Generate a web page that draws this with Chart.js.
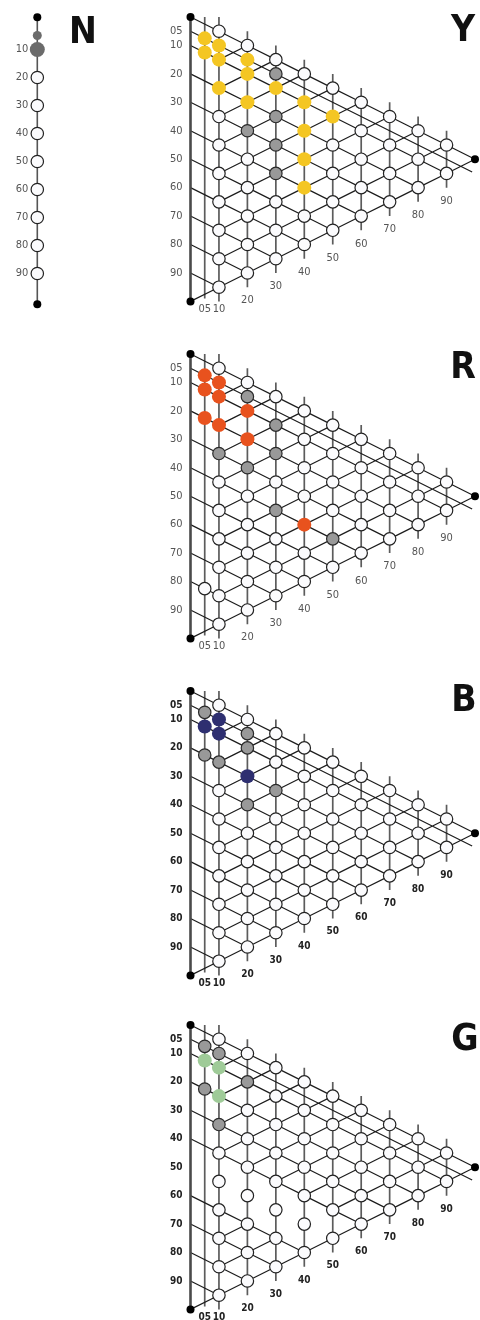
<!DOCTYPE html>
<html>
<head>
<meta charset="utf-8">
<script src="https://cdn.jsdelivr.net/npm/chart.js@4.4.1/dist/chart.umd.min.js"></script>
<style>
html, body { margin: 0; padding: 0; background: #fff; }
body { width: 480px; height: 1320px; position: relative; overflow: hidden; }
canvas { position: absolute; left: 0; }
.hue { position: absolute; font-family: 'Liberation Sans Narrow', 'DejaVu Sans Condensed', Roboto, sans-serif;
       font-weight: bold; font-size: 37px; line-height: 37px; color: #111; transform: translate(-50%, -50%); }
</style>
</head>
<body>
<canvas id="nChart" width="80" height="320" style="top:0"></canvas>
<canvas id="yChart" width="480" height="325" style="top:-3px"></canvas>
<canvas id="rChart" width="480" height="325" style="top:334px"></canvas>
<canvas id="bChart" width="480" height="325" style="top:671px"></canvas>
<canvas id="gChart" width="480" height="325" style="top:1005px"></canvas>
<div class="hue" style="left:83px;top:30px">N</div>
<div class="hue" style="left:463px;top:28px">Y</div>
<div class="hue" style="left:463px;top:365px">R</div>
<div class="hue" style="left:464px;top:698px">B</div>
<div class="hue" style="left:465px;top:1037px">G</div>
<script>
// ejes y escalas
const leftTicks = [5, 10, 20, 30, 40, 50, 60, 70, 80, 90];
const bottomTicks = [5, 10, 20, 30, 40, 50, 60, 70, 80, 90];
const chromaCols = [10, 20, 30, 40, 50, 60, 70, 80, 90];
const blackRows = [0, 10, 20, 30, 40, 50, 60, 70, 80, 90];
const halfRow = 5;

// escala N (negrura pura)
const nTicks = [10, 20, 30, 40, 50, 60, 70, 80, 90];
const nSteps = [5, 10, 20, 30, 40, 50, 60, 70, 80, 90];
const nGray = [5, 10];
const nEnds = [-1.5, 101];

// muestras por tono: [cromaticidad, negrura]
const yHue = [[5, 5], [5, 10], [10, 5], [10, 10], [10, 20], [20, 5], [20, 10], [20, 20], [30, 10], [40, 10], [40, 20], [40, 30], [40, 40], [50, 10]];
const yGray = [[20, 30], [30, 5], [30, 20], [30, 30], [30, 40]];
const yExtra = [];

const rHue = [[5, 5], [5, 10], [5, 20], [10, 5], [10, 10], [10, 20], [20, 10], [20, 20], [40, 40]];
const rGray = [[10, 30], [20, 5], [20, 30], [30, 10], [30, 20], [30, 40], [50, 40]];
const rExtra = [[5, 80]];

const bHue = [[5, 10], [10, 5], [10, 10], [20, 20]];
const bGray = [[5, 5], [5, 20], [10, 20], [20, 5], [20, 10], [20, 30], [30, 20]];
const bExtra = [];

const gHue = [[5, 10], [10, 10], [10, 20]];
const gGray = [[5, 5], [5, 20], [10, 5], [10, 30], [20, 10]];
const gExtra = [];
const gLoose = [[10, 50], [20, 50], [30, 50], [40, 50]];

const FONT = "'Liberation Sans Narrow', 'DejaVu Sans Condensed', Roboto, sans-serif";

const isIn = (list, c, s) => list.some(p => p[0] === c && p[1] === s);
const toXY = p => ({ x: p[0], y: p[1] + p[0] / 2 });
const GAP = { x: null, y: null };

function latticeLines(loose) {
    const segs = [];
    const add = (a, b) => {
        if (isIn(loose, a[0], a[1]) || isIn(loose, b[0], b[1])) return;
        segs.push(toXY(a), toXY(b), GAP);
    };
    const chain = nodes => { for (let i = 1; i < nodes.length; i++) add(nodes[i - 1], nodes[i]); };
    // filas de negrura constante
    blackRows.forEach(s => chain([0, ...chromaCols, 100].filter(c => c <= 100 - s).map(c => [c, s])));
    add([0, halfRow], [99, halfRow]);
    // blancura constante
    chromaCols.forEach(w => chain(chromaCols.filter(c => c <= 100 - w).map(c => [c, 100 - w - c])));
    // borde inferior
    chain([0, ...chromaCols, 100].map(c => [c, 100 - c]));
    return segs;
}

function verticalLines() {
    const segs = [toXY([5, -2.5]), toXY([5, 96.5]), GAP];
    chromaCols.forEach(c => segs.push(toXY([c, -5]), toXY([c, 105 - c]), GAP));
    return segs;
}

const bottomLabels = {
    id: 'bottomLabels',
    afterDatasetsDraw(chart, args, o) {
        if (!o || !o.color) return;
        const { ctx, scales: { x, y } } = chart;
        ctx.save();
        ctx.font = o.font;
        ctx.fillStyle = o.color;
        ctx.textAlign = 'center';
        ctx.textBaseline = 'middle';
        bottomTicks.forEach(c => {
            const b = Math.min(100 - c / 2 + 9.7, 102.8);
            ctx.fillText(String(c).padStart(2, '0'), x.getPixelForValue(c), y.getPixelForValue(b));
        });
        ctx.restore();
    }
};

function triangulo(id, hue, gray, extra, loose, color, bold) {
    const whites = [];
    chromaCols.forEach(c => blackRows.forEach(s => {
        if (c + s > 100) return;
        if (isIn(hue, c, s) || isIn(gray, c, s)) return;
        whites.push([c, s]);
    }));
    extra.forEach(p => whites.push(p));
    const txtColor = bold ? '#222' : '#555';
    const weight = bold ? 'bold' : 'normal';
    const size = bold ? 10 : 11;

    return new Chart(document.getElementById(id), {
        type: 'scatter',
        data: {
            datasets: [
                { data: verticalLines(), showLine: true, borderColor: '#5c5c5c', borderWidth: 1.7, pointRadius: 0, order: 5 },
                { data: latticeLines(loose), showLine: true, borderColor: '#1c1c1c', borderWidth: 1.2, pointRadius: 0, order: 4 },
                { data: [toXY([0, 0]), toXY([0, 100])], showLine: true, borderColor: '#4a4a4a', borderWidth: 2.6, pointRadius: 0, order: 3 },
                { data: whites.map(toXY), pointRadius: 6.2, pointBorderWidth: 1.2, pointBackgroundColor: '#fbfbfd', pointBorderColor: '#222', order: 2 },
                { data: gray.map(toXY), pointRadius: 6.2, pointBorderWidth: 1.2, pointBackgroundColor: '#999', pointBorderColor: '#2a2a2a', order: 1 },
                { data: hue.map(toXY), pointRadius: 7, pointBorderWidth: 0, pointBackgroundColor: color, pointBorderColor: color, order: 1 },
                { data: [[0, 0], [0, 100], [100, 0]].map(toXY), pointRadius: 4, pointBorderWidth: 0, pointBackgroundColor: '#000', order: 0 }
            ].map(d => Object.assign({ clip: false }, d))
        },
        options: {
            responsive: false,
            animation: false,
            events: [],
            layout: { autoPadding: false, padding: { left: 0, right: 5, top: 20, bottom: 325 - 20 - 284.4 } },
            scales: {
                x: { type: 'linear', min: 0, max: 100, display: false },
                y: {
                    type: 'linear', reverse: true, min: 0, max: 100,
                    afterFit(axis) { axis.width = 190.5; },
                    afterBuildTicks(axis) { axis.ticks = leftTicks.map(v => ({ value: v })); },
                    ticks: {
                        autoSkip: false, padding: 8, color: txtColor,
                        font: { family: FONT, size: size, weight: weight },
                        callback: v => String(v).padStart(2, '0')
                    },
                    grid: { display: false, drawTicks: false },
                    border: { display: false }
                }
            },
            plugins: {
                legend: { display: false },
                tooltip: { enabled: false },
                bottomLabels: { color: txtColor, font: weight + ' ' + size + 'px ' + FONT }
            }
        },
        plugins: [bottomLabels]
    });
}

// escala N
new Chart(document.getElementById('nChart'), {
    type: 'scatter',
    data: {
        datasets: [
            { data: nEnds.map(n => ({ x: 0, y: n })), showLine: true, borderColor: '#555', borderWidth: 1.6, pointRadius: 0, order: 3 },
            { data: nSteps.filter(n => !nGray.includes(n)).map(n => ({ x: 0, y: n })), pointRadius: 6.2, pointBorderWidth: 1.2, pointBackgroundColor: '#fbfbfd', pointBorderColor: '#222', order: 2 },
            { data: nGray.map(n => ({ x: 0, y: n })), pointRadius: [4.5, 7.5], pointBorderWidth: 0, pointBackgroundColor: '#6b6b6b', order: 1 },
            { data: nEnds.map(n => ({ x: 0, y: n })), pointRadius: 4, pointBorderWidth: 0, pointBackgroundColor: '#000', order: 0 }
        ].map(d => Object.assign({ clip: false }, d))
    },
    options: {
        responsive: false,
        animation: false,
        events: [],
        layout: { autoPadding: false, padding: { left: 0, right: 0, top: 17.3, bottom: 320 - 304.3 } },
        scales: {
            x: { type: 'linear', min: 0, max: 1, display: false },
            y: {
                type: 'linear', reverse: true, min: nEnds[0], max: nEnds[1],
                afterFit(axis) { axis.width = 37.3; },
                afterBuildTicks(axis) { axis.ticks = nTicks.map(v => ({ value: v })); },
                ticks: { autoSkip: false, padding: 9, color: '#555', font: { family: FONT, size: 11 } },
                grid: { display: false, drawTicks: false },
                border: { display: false }
            }
        },
        plugins: { legend: { display: false }, tooltip: { enabled: false } }
    }
});

triangulo('yChart', yHue, yGray, yExtra, [], '#f4c623', false);
triangulo('rChart', rHue, rGray, rExtra, [], '#e8521e', false);
triangulo('bChart', bHue, bGray, bExtra, [], '#2e2f70', true);
triangulo('gChart', gHue, gGray, gExtra, gLoose, '#9fcb98', true);
</script>
</body>
</html>
